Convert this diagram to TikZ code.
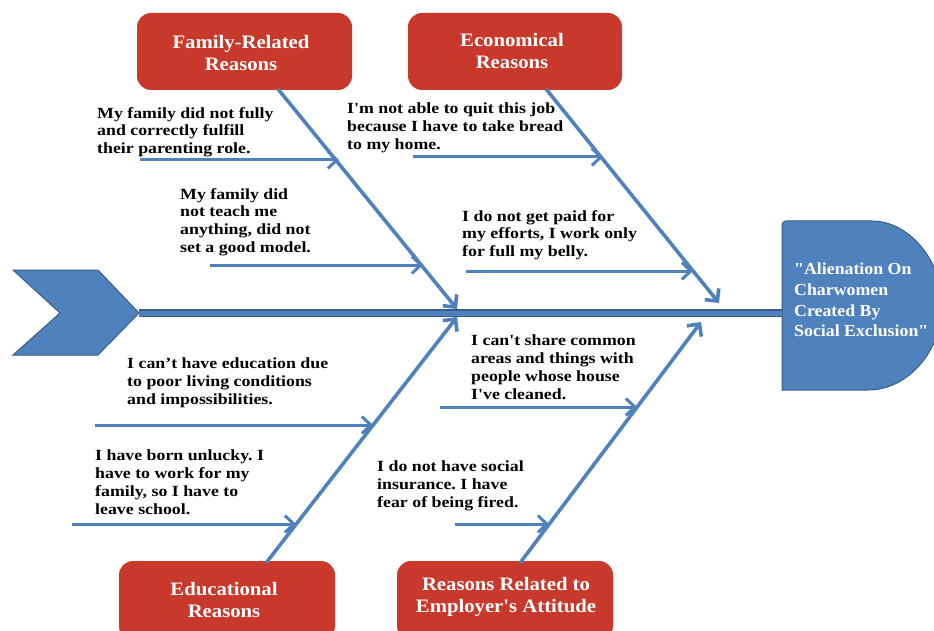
\documentclass[tikz,border=0pt]{standalone}
\usepackage{fontspec}
\setmainfont{Liberation Serif}[Ligatures=TeXOff]
\newfontfamily\causefont{Liberation Serif}[Ligatures=TeXOff, FakeStretch=1.15]
\newfontfamily\boxfont{Liberation Serif}[Ligatures=TeXOff, FakeStretch=1.09]
\newfontfamily\headfont{Liberation Serif}[Ligatures=TeXOff, FakeStretch=1.06]
\frenchspacing
\usetikzlibrary{arrows.meta}
\definecolor{boneblue}{HTML}{4F81BD}
\definecolor{edgeblue}{HTML}{385D8A}
\definecolor{boxred}{HTML}{C8392B}
\tikzset{
  bone/.style={draw=boneblue, line width=3.6pt, -{Straight Barb[length=9pt,width=18pt]}},
  twig/.style={draw=boneblue, line width=3pt, -{Straight Barb[length=9pt,width=17pt]}},
  catbox/.style={fill=boxred, rounded corners=14pt},
  cattext/.style={text=white, font=\boxfont\bfseries\fontsize{19}{22}\selectfont, align=center, inner sep=0pt},
  cause/.style={text=black, font=\causefont\bfseries\fontsize{15.5}{17.8}\selectfont, align=left, anchor=north west, inner sep=0pt},
  headtext/.style={text=white, font=\headfont\bfseries\fontsize{16.8}{20.7}\selectfont, align=left, anchor=north west, inner sep=0pt}
}
\begin{document}
\begin{tikzpicture}[x=1pt,y=-1pt]
\useasboundingbox (0,0) rectangle (934,631);
\clip (0,0) rectangle (934,631);
% tail
\draw[fill=boneblue, draw=edgeblue, line width=1pt] (13,270) -- (98,270) -- (139,313) -- (98,355) -- (13,355) -- (60,313) -- cycle;
% head
\draw[fill=boneblue, draw=edgeblue, line width=1pt, rounded corners=4pt] (782,390) -- (782,221) -- (868,221) [sharp corners] .. controls (908,221) and (942,259) .. (942,305) .. controls (942,351) and (908,390) .. (868,390) -- cycle;
% spine
\coordinate (spineL) at (139,313);
\coordinate (spineR) at (782,313);
\draw[edgeblue, line width=8pt] (spineL) -- (spineR);
\draw[boneblue, line width=5pt] (spineL) -- (spineR);
% category boxes
\fill[catbox] (137,13) rectangle (352,90);
\fill[catbox] (408,13) rectangle (622,90);
\fill[catbox] (119,561) rectangle (335,640);
\fill[catbox] (397,561) rectangle (613,640);
\node[cattext] (fam) at (241,53) {Family-Related\\Reasons};
\node[cattext] (eco) at (512,51) {Economical\\Reasons};
\node[cattext] (edu) at (224,600) {Educational\\Reasons};
\node[cattext] (emp) at (506,597) {Reasons Related to\\Employer's Attitude};
% bone coordinates
\coordinate (famS) at (278,89);
\coordinate (famE) at (457,309);
\coordinate (ecoS) at (546,89);
\coordinate (ecoE) at (719,303);
\coordinate (eduS) at (266,563);
\coordinate (eduE) at (457,317);
\coordinate (empS) at (520,563);
\coordinate (empE) at (701,322);
\draw[bone] (famS) -- (famE);
\draw[bone] (ecoS) -- (ecoE);
\draw[bone] (eduS) -- (eduE);
\draw[bone] (empS) -- (empE);
% twigs
\coordinate (f1s) at (140,160); \coordinate (f1e) at (339,160);
\coordinate (f2s) at (210,265); \coordinate (f2e) at (423,265);
\coordinate (e1s) at (413,157); \coordinate (e1e) at (603,157);
\coordinate (e2s) at (466,271); \coordinate (e2e) at (693,271);
\coordinate (d1s) at (95,425);  \coordinate (d1e) at (373,425);
\coordinate (d2s) at (72,524);  \coordinate (d2e) at (296,524);
\coordinate (m1s) at (440,407); \coordinate (m1e) at (637,407);
\coordinate (m2s) at (455,524); \coordinate (m2e) at (549,524);
\draw[twig] (f1s) -- (f1e);
\draw[twig] (f2s) -- (f2e);
\draw[twig] (e1s) -- (e1e);
\draw[twig] (e2s) -- (e2e);
\draw[twig] (d1s) -- (d1e);
\draw[twig] (d2s) -- (d2e);
\draw[twig] (m1s) -- (m1e);
\draw[twig] (m2s) -- (m2e);
% cause texts
\node[cause] (t1) at (97,107) {My family did not fully\\and correctly fulfill\\their parenting role.};
\node[cause] (t2) at (180,188) {My family did\\not teach me\\anything, did not\\set a good model.};
\node[cause] (t3) at (347,103) {I'm not able to quit this job\\because I have to take bread\\to my home.};
\node[cause] (t4) at (462,210) {I do not get paid for\\my efforts, I work only\\for full my belly.};
\node[cause] (t5) at (471,335) {I can't share common\\areas and things with\\people whose house\\I've cleaned.};
\node[cause] (t6) at (127,358) {I can’t have education due\\to poor living conditions\\and impossibilities.};
\node[cause] (t7) at (95,450) {I have born unlucky. I\\have to work for my\\family, so I have to\\leave school.};
\node[cause] (t8) at (377,461) {I do not have social\\insurance. I have\\fear of being fired.};
% head text
\node[headtext] (head) at (794,263) {"Alienation On\\Charwomen\\Created By\\Social Exclusion"};
\end{tikzpicture}
\end{document}
